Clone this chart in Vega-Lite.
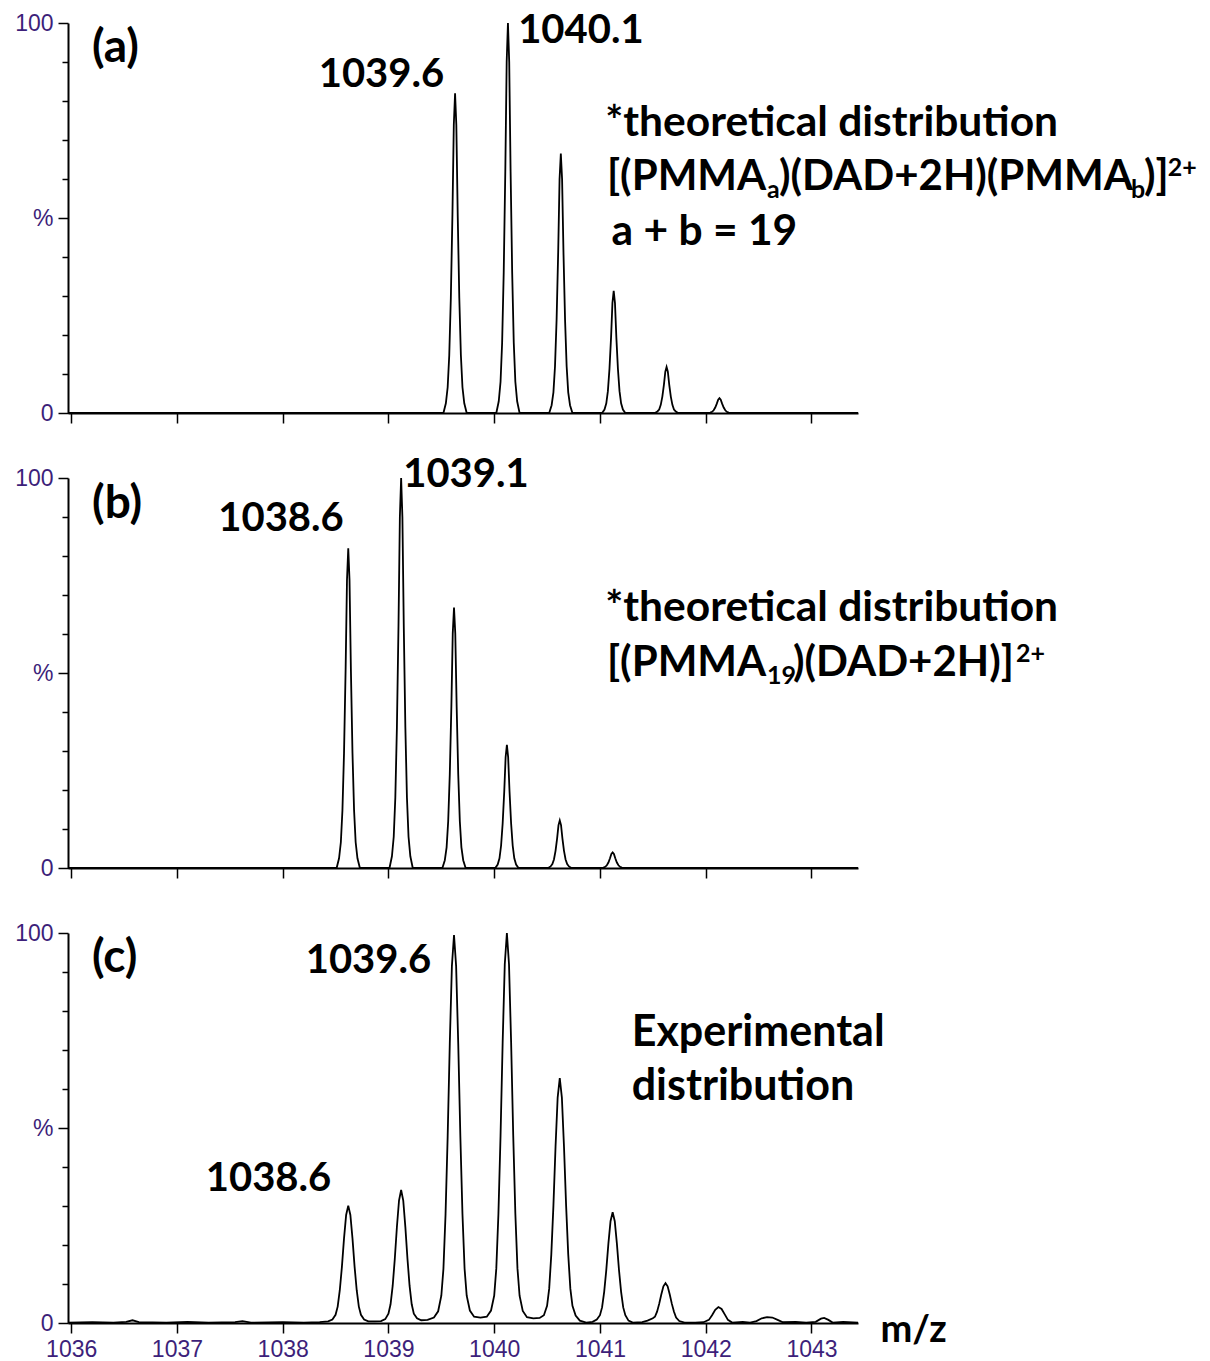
{
  "$schema": "https://vega.github.io/schema/vega-lite/v6.json",
  "background": "white",
  "padding": {"left": 14, "top": 10, "right": 0, "bottom": 0},
  "config": {
    "view": {"stroke": null},
    "axis": {"domainColor": "black", "domainWidth": 2, "tickColor": "black", "tickWidth": 1.5, "grid": false, "labelFont": "Liberation Sans", "labelFontSize": 23, "labelColor": "#3d1f7a"},
    "text": {"font": "Lato", "fontWeight": "bold", "fontSize": 43, "baseline": "alphabetic", "color": "black"}
  },
  "datasets": {
    "a": [
      {"mz": 1035.97, "pct": 0},
      {"mz": 1039.52, "pct": 0}, {"mz": 1039.543, "pct": 2.5}, {"mz": 1039.56, "pct": 6.6}, {"mz": 1039.575, "pct": 14.8}, {"mz": 1039.59, "pct": 29.5}, {"mz": 1039.605, "pct": 50.8}, {"mz": 1039.618, "pct": 73.8}, {"mz": 1039.63, "pct": 82}, {"mz": 1039.642, "pct": 73.8}, {"mz": 1039.655, "pct": 50.8}, {"mz": 1039.67, "pct": 29.5}, {"mz": 1039.685, "pct": 14.8}, {"mz": 1039.7, "pct": 6.6}, {"mz": 1039.717, "pct": 2.5}, {"mz": 1039.74, "pct": 0},
      {"mz": 1040.02, "pct": 0}, {"mz": 1040.043, "pct": 3}, {"mz": 1040.06, "pct": 8}, {"mz": 1040.075, "pct": 18}, {"mz": 1040.09, "pct": 36}, {"mz": 1040.105, "pct": 62}, {"mz": 1040.118, "pct": 90}, {"mz": 1040.13, "pct": 100}, {"mz": 1040.142, "pct": 90}, {"mz": 1040.155, "pct": 62}, {"mz": 1040.17, "pct": 36}, {"mz": 1040.185, "pct": 18}, {"mz": 1040.2, "pct": 8}, {"mz": 1040.217, "pct": 3}, {"mz": 1040.24, "pct": 0},
      {"mz": 1040.52, "pct": 0}, {"mz": 1040.543, "pct": 2}, {"mz": 1040.56, "pct": 5.3}, {"mz": 1040.575, "pct": 12}, {"mz": 1040.59, "pct": 23.9}, {"mz": 1040.605, "pct": 41.2}, {"mz": 1040.618, "pct": 59.9}, {"mz": 1040.63, "pct": 66.5}, {"mz": 1040.642, "pct": 59.9}, {"mz": 1040.655, "pct": 41.2}, {"mz": 1040.67, "pct": 23.9}, {"mz": 1040.685, "pct": 12}, {"mz": 1040.7, "pct": 5.3}, {"mz": 1040.717, "pct": 2}, {"mz": 1040.74, "pct": 0},
      {"mz": 1041.02, "pct": 0}, {"mz": 1041.043, "pct": 0.9}, {"mz": 1041.06, "pct": 2.5}, {"mz": 1041.075, "pct": 5.6}, {"mz": 1041.09, "pct": 11.3}, {"mz": 1041.105, "pct": 19.4}, {"mz": 1041.118, "pct": 28.2}, {"mz": 1041.13, "pct": 31.3}, {"mz": 1041.142, "pct": 28.2}, {"mz": 1041.155, "pct": 19.4}, {"mz": 1041.17, "pct": 11.3}, {"mz": 1041.185, "pct": 5.6}, {"mz": 1041.2, "pct": 2.5}, {"mz": 1041.217, "pct": 0.9}, {"mz": 1041.24, "pct": 0},
      {"mz": 1041.52, "pct": 0}, {"mz": 1041.543, "pct": 0.4}, {"mz": 1041.56, "pct": 0.9}, {"mz": 1041.575, "pct": 2.1}, {"mz": 1041.59, "pct": 4.2}, {"mz": 1041.605, "pct": 7.3}, {"mz": 1041.618, "pct": 10.6}, {"mz": 1041.63, "pct": 11.8}, {"mz": 1041.642, "pct": 10.6}, {"mz": 1041.655, "pct": 7.3}, {"mz": 1041.67, "pct": 4.2}, {"mz": 1041.685, "pct": 2.1}, {"mz": 1041.7, "pct": 0.9}, {"mz": 1041.717, "pct": 0.4}, {"mz": 1041.74, "pct": 0},
      {"mz": 1042.02, "pct": 0}, {"mz": 1042.043, "pct": 0.1}, {"mz": 1042.06, "pct": 0.3}, {"mz": 1042.075, "pct": 0.7}, {"mz": 1042.09, "pct": 1.4}, {"mz": 1042.105, "pct": 2.4}, {"mz": 1042.118, "pct": 3.4}, {"mz": 1042.13, "pct": 3.8}, {"mz": 1042.142, "pct": 3.4}, {"mz": 1042.155, "pct": 2.4}, {"mz": 1042.17, "pct": 1.4}, {"mz": 1042.185, "pct": 0.7}, {"mz": 1042.2, "pct": 0.3}, {"mz": 1042.217, "pct": 0.1}, {"mz": 1042.24, "pct": 0},
      {"mz": 1043.44, "pct": 0}
    ],
    "b": [
      {"mz": 1035.97, "pct": 0},
      {"mz": 1038.51, "pct": 0}, {"mz": 1038.533, "pct": 2.5}, {"mz": 1038.55, "pct": 6.6}, {"mz": 1038.565, "pct": 14.8}, {"mz": 1038.58, "pct": 29.5}, {"mz": 1038.595, "pct": 50.8}, {"mz": 1038.608, "pct": 73.8}, {"mz": 1038.62, "pct": 82}, {"mz": 1038.632, "pct": 73.8}, {"mz": 1038.645, "pct": 50.8}, {"mz": 1038.66, "pct": 29.5}, {"mz": 1038.675, "pct": 14.8}, {"mz": 1038.69, "pct": 6.6}, {"mz": 1038.707, "pct": 2.5}, {"mz": 1038.73, "pct": 0},
      {"mz": 1039.01, "pct": 0}, {"mz": 1039.033, "pct": 3}, {"mz": 1039.05, "pct": 8}, {"mz": 1039.065, "pct": 18}, {"mz": 1039.08, "pct": 36}, {"mz": 1039.095, "pct": 62}, {"mz": 1039.108, "pct": 90}, {"mz": 1039.12, "pct": 100}, {"mz": 1039.132, "pct": 90}, {"mz": 1039.145, "pct": 62}, {"mz": 1039.16, "pct": 36}, {"mz": 1039.175, "pct": 18}, {"mz": 1039.19, "pct": 8}, {"mz": 1039.207, "pct": 3}, {"mz": 1039.23, "pct": 0},
      {"mz": 1039.51, "pct": 0}, {"mz": 1039.533, "pct": 2}, {"mz": 1039.55, "pct": 5.3}, {"mz": 1039.565, "pct": 12}, {"mz": 1039.58, "pct": 24}, {"mz": 1039.595, "pct": 41.4}, {"mz": 1039.608, "pct": 60.1}, {"mz": 1039.62, "pct": 66.8}, {"mz": 1039.632, "pct": 60.1}, {"mz": 1039.645, "pct": 41.4}, {"mz": 1039.66, "pct": 24}, {"mz": 1039.675, "pct": 12}, {"mz": 1039.69, "pct": 5.3}, {"mz": 1039.707, "pct": 2}, {"mz": 1039.73, "pct": 0},
      {"mz": 1040.01, "pct": 0}, {"mz": 1040.033, "pct": 0.9}, {"mz": 1040.05, "pct": 2.5}, {"mz": 1040.065, "pct": 5.7}, {"mz": 1040.08, "pct": 11.4}, {"mz": 1040.095, "pct": 19.6}, {"mz": 1040.108, "pct": 28.4}, {"mz": 1040.12, "pct": 31.6}, {"mz": 1040.132, "pct": 28.4}, {"mz": 1040.145, "pct": 19.6}, {"mz": 1040.16, "pct": 11.4}, {"mz": 1040.175, "pct": 5.7}, {"mz": 1040.19, "pct": 2.5}, {"mz": 1040.207, "pct": 0.9}, {"mz": 1040.23, "pct": 0},
      {"mz": 1040.51, "pct": 0}, {"mz": 1040.533, "pct": 0.4}, {"mz": 1040.55, "pct": 1}, {"mz": 1040.565, "pct": 2.2}, {"mz": 1040.58, "pct": 4.4}, {"mz": 1040.595, "pct": 7.6}, {"mz": 1040.608, "pct": 11}, {"mz": 1040.62, "pct": 12.2}, {"mz": 1040.632, "pct": 11}, {"mz": 1040.645, "pct": 7.6}, {"mz": 1040.66, "pct": 4.4}, {"mz": 1040.675, "pct": 2.2}, {"mz": 1040.69, "pct": 1}, {"mz": 1040.707, "pct": 0.4}, {"mz": 1040.73, "pct": 0},
      {"mz": 1041.01, "pct": 0}, {"mz": 1041.033, "pct": 0.1}, {"mz": 1041.05, "pct": 0.3}, {"mz": 1041.065, "pct": 0.7}, {"mz": 1041.08, "pct": 1.4}, {"mz": 1041.095, "pct": 2.5}, {"mz": 1041.108, "pct": 3.6}, {"mz": 1041.12, "pct": 4}, {"mz": 1041.132, "pct": 3.6}, {"mz": 1041.145, "pct": 2.5}, {"mz": 1041.16, "pct": 1.4}, {"mz": 1041.175, "pct": 0.7}, {"mz": 1041.19, "pct": 0.3}, {"mz": 1041.207, "pct": 0.1}, {"mz": 1041.23, "pct": 0},
      {"mz": 1043.44, "pct": 0}
    ],
    "c": [
      {"mz": 1035.97, "pct": 0.1}, {"mz": 1036.2, "pct": 0.2}, {"mz": 1036.4, "pct": 0.1}, {"mz": 1036.52, "pct": 0.3}, {"mz": 1036.58, "pct": 0.7}, {"mz": 1036.64, "pct": 0.2}, {"mz": 1036.9, "pct": 0.1}, {"mz": 1037.1, "pct": 0.3}, {"mz": 1037.3, "pct": 0.1}, {"mz": 1037.55, "pct": 0.2}, {"mz": 1037.62, "pct": 0.5}, {"mz": 1037.7, "pct": 0.1}, {"mz": 1038.0, "pct": 0.2}, {"mz": 1038.2, "pct": 0.1}, {"mz": 1038.35, "pct": 0.2},
      {"mz": 1038.43, "pct": 0.4}, {"mz": 1038.47, "pct": 0.9}, {"mz": 1038.5, "pct": 2.1}, {"mz": 1038.52, "pct": 4.2}, {"mz": 1038.54, "pct": 8.4}, {"mz": 1038.56, "pct": 14.4}, {"mz": 1038.58, "pct": 21.7}, {"mz": 1038.6, "pct": 27.7}, {"mz": 1038.62, "pct": 30.1}, {"mz": 1038.64, "pct": 27.7}, {"mz": 1038.66, "pct": 21.7}, {"mz": 1038.68, "pct": 14.4}, {"mz": 1038.7, "pct": 8.4}, {"mz": 1038.72, "pct": 4.2}, {"mz": 1038.74, "pct": 2.1}, {"mz": 1038.77, "pct": 0.9}, {"mz": 1038.81, "pct": 0.4},
      {"mz": 1038.87, "pct": 0.4},
      {"mz": 1038.93, "pct": 0.5}, {"mz": 1038.97, "pct": 1.0}, {"mz": 1039.0, "pct": 2.4}, {"mz": 1039.02, "pct": 4.8}, {"mz": 1039.04, "pct": 9.5}, {"mz": 1039.06, "pct": 16.4}, {"mz": 1039.08, "pct": 24.6}, {"mz": 1039.1, "pct": 31.4}, {"mz": 1039.12, "pct": 34.1}, {"mz": 1039.14, "pct": 31.4}, {"mz": 1039.16, "pct": 24.6}, {"mz": 1039.18, "pct": 16.4}, {"mz": 1039.2, "pct": 9.5}, {"mz": 1039.22, "pct": 4.8}, {"mz": 1039.24, "pct": 2.4}, {"mz": 1039.27, "pct": 1.2}, {"mz": 1039.31, "pct": 0.7},
      {"mz": 1039.37, "pct": 0.8},
      {"mz": 1039.43, "pct": 1.4}, {"mz": 1039.47, "pct": 3.0}, {"mz": 1039.5, "pct": 7.0}, {"mz": 1039.52, "pct": 13.9}, {"mz": 1039.54, "pct": 27.9}, {"mz": 1039.56, "pct": 47.8}, {"mz": 1039.58, "pct": 71.6}, {"mz": 1039.6, "pct": 91.5}, {"mz": 1039.62, "pct": 99.5}, {"mz": 1039.64, "pct": 91.5}, {"mz": 1039.66, "pct": 71.6}, {"mz": 1039.68, "pct": 47.8}, {"mz": 1039.7, "pct": 27.9}, {"mz": 1039.72, "pct": 13.9}, {"mz": 1039.74, "pct": 7.0}, {"mz": 1039.77, "pct": 3.2}, {"mz": 1039.81, "pct": 1.6},
      {"mz": 1039.87, "pct": 1.4},
      {"mz": 1039.93, "pct": 1.6}, {"mz": 1039.97, "pct": 3.2}, {"mz": 1040.0, "pct": 7.0}, {"mz": 1040.02, "pct": 14}, {"mz": 1040.04, "pct": 28}, {"mz": 1040.06, "pct": 48}, {"mz": 1040.08, "pct": 72}, {"mz": 1040.1, "pct": 92}, {"mz": 1040.12, "pct": 100}, {"mz": 1040.14, "pct": 92}, {"mz": 1040.16, "pct": 72}, {"mz": 1040.18, "pct": 48}, {"mz": 1040.2, "pct": 28}, {"mz": 1040.22, "pct": 14}, {"mz": 1040.24, "pct": 7}, {"mz": 1040.27, "pct": 3.1}, {"mz": 1040.31, "pct": 1.5},
      {"mz": 1040.37, "pct": 1.2},
      {"mz": 1040.43, "pct": 1.3}, {"mz": 1040.47, "pct": 2.0}, {"mz": 1040.5, "pct": 4.4}, {"mz": 1040.52, "pct": 8.8}, {"mz": 1040.54, "pct": 17.6}, {"mz": 1040.56, "pct": 30.1}, {"mz": 1040.58, "pct": 45.2}, {"mz": 1040.6, "pct": 57.8}, {"mz": 1040.62, "pct": 62.8}, {"mz": 1040.64, "pct": 57.8}, {"mz": 1040.66, "pct": 45.2}, {"mz": 1040.68, "pct": 30.1}, {"mz": 1040.7, "pct": 17.6}, {"mz": 1040.72, "pct": 8.8}, {"mz": 1040.74, "pct": 4.4}, {"mz": 1040.77, "pct": 1.9}, {"mz": 1040.81, "pct": 0.6},
      {"mz": 1040.87, "pct": 0.1},
      {"mz": 1040.93, "pct": 0.3}, {"mz": 1040.97, "pct": 0.9}, {"mz": 1041.0, "pct": 2.0}, {"mz": 1041.02, "pct": 4.0}, {"mz": 1041.04, "pct": 8.0}, {"mz": 1041.06, "pct": 13.6}, {"mz": 1041.08, "pct": 20.4}, {"mz": 1041.1, "pct": 26.1}, {"mz": 1041.12, "pct": 28.4}, {"mz": 1041.14, "pct": 26.1}, {"mz": 1041.16, "pct": 20.4}, {"mz": 1041.18, "pct": 13.6}, {"mz": 1041.2, "pct": 8.0}, {"mz": 1041.22, "pct": 4.0}, {"mz": 1041.24, "pct": 2.0}, {"mz": 1041.27, "pct": 0.6}, {"mz": 1041.31, "pct": 0.1},
      {"mz": 1041.4, "pct": 0.2},
      {"mz": 1041.45, "pct": 0.6}, {"mz": 1041.5, "pct": 1.2}, {"mz": 1041.52, "pct": 1.6}, {"mz": 1041.54, "pct": 2.9}, {"mz": 1041.56, "pct": 4.9}, {"mz": 1041.58, "pct": 7.3}, {"mz": 1041.6, "pct": 9.4}, {"mz": 1041.62, "pct": 10.2}, {"mz": 1041.64, "pct": 9.4}, {"mz": 1041.66, "pct": 7.3}, {"mz": 1041.68, "pct": 4.9}, {"mz": 1041.7, "pct": 2.9}, {"mz": 1041.72, "pct": 1.4}, {"mz": 1041.75, "pct": 0.5}, {"mz": 1041.8, "pct": 0.1},
      {"mz": 1041.9, "pct": 0.1},
      {"mz": 1041.98, "pct": 0.2}, {"mz": 1042.03, "pct": 0.8}, {"mz": 1042.06, "pct": 2.0}, {"mz": 1042.09, "pct": 3.4}, {"mz": 1042.12, "pct": 4.1}, {"mz": 1042.15, "pct": 3.6}, {"mz": 1042.18, "pct": 2.2}, {"mz": 1042.21, "pct": 0.8}, {"mz": 1042.25, "pct": 0.1},
      {"mz": 1042.35, "pct": 0.3}, {"mz": 1042.42, "pct": 0.1},
      {"mz": 1042.48, "pct": 0.5}, {"mz": 1042.53, "pct": 1.2}, {"mz": 1042.58, "pct": 1.5}, {"mz": 1042.63, "pct": 1.4}, {"mz": 1042.68, "pct": 0.8}, {"mz": 1042.73, "pct": 0.2},
      {"mz": 1042.85, "pct": 0.3}, {"mz": 1042.95, "pct": 0.1},
      {"mz": 1043.04, "pct": 0.3}, {"mz": 1043.09, "pct": 1.1}, {"mz": 1043.12, "pct": 1.3}, {"mz": 1043.16, "pct": 0.8}, {"mz": 1043.2, "pct": 0.1},
      {"mz": 1043.3, "pct": 0.3}, {"mz": 1043.44, "pct": 0.1}
    ]
  },
  "vconcat": [
    {
      "width": 790, "height": 390,
      "resolve": {"axis": {"y": "independent"}},
      "layer": [
        {
          "data": {"name": "a"},
          "mark": {"type": "line", "color": "black", "strokeWidth": 1.8},
          "encoding": {
            "x": {"field": "mz", "type": "quantitative", "scale": {"domain": [1035.97, 1043.44], "nice": false, "zero": false},
                  "axis": {"values": [1036, 1037, 1038, 1039, 1040, 1041, 1042, 1043], "labels": false, "tickSize": 10, "title": null}},
            "y": {"field": "pct", "type": "quantitative", "scale": {"domain": [0, 100], "nice": false},
                  "axis": {"orient": "left", "values": [0, 50, 100], "labelExpr": "datum.value == 50 ? '%' : datum.label", "tickSize": 10, "labelPadding": 5, "title": null}},
            "order": {"field": "mz", "type": "quantitative"}
          }
        },
        {
          "data": {"values": [{"pct": 0}]},
          "mark": {"type": "point", "opacity": 0},
          "encoding": {"y": {"field": "pct", "type": "quantitative", "axis": {"orient": "left", "values": [10, 20, 30, 40, 60, 70, 80, 90], "tickSize": 6, "labels": false, "domain": false, "title": null}}}
        },
        {
          "data": {"values": [{"mz": 1038.934, "pct": 83.6, "label": "1039.6"}, {"mz": 1040.82, "pct": 94.9, "label": "1040.1"}]},
          "mark": {"type": "text", "align": "center", "fontSize": 40},
          "encoding": {"x": {"field": "mz", "type": "quantitative"}, "y": {"field": "pct", "type": "quantitative", "axis": null}, "text": {"field": "label"}}
        },
        {
          "data": {"values": [{"mz": 1041.05, "pct": 71.0, "label": "*theoretical distribution"}, {"mz": 1041.11, "pct": 43.1, "label": "a + b = 19"}]},
          "mark": {"type": "text", "align": "left", "fontSize": 42.5},
          "encoding": {"x": {"field": "mz", "type": "quantitative"}, "y": {"field": "pct", "type": "quantitative", "axis": null}, "text": {"field": "label"}}
        },
        {
          "data": {"values": [{"mz": 1041.066, "pct": 57.2, "label": "[(PMMA"}, {"mz": 1042.693, "pct": 57.2, "label": ")(DAD+2H)(PMMA"}, {"mz": 1046.144, "pct": 57.2, "label": ")]"}]},
          "mark": {"type": "text", "align": "left", "fontSize": 42},
          "encoding": {"x": {"field": "mz", "type": "quantitative"}, "y": {"field": "pct", "type": "quantitative", "axis": null}, "text": {"field": "label"}}
        },
        {
          "data": {"values": [{"mz": 1036.197, "pct": 90.0, "label": "(a)"}]},
          "mark": {"type": "text", "align": "left", "fontSize": 46},
          "encoding": {"x": {"field": "mz", "type": "quantitative"}, "y": {"field": "pct", "type": "quantitative", "axis": null}, "text": {"field": "label"}}
        },
        {
          "data": {"values": [{"mz": 1042.579, "pct": 57.2, "label": "a"}, {"mz": 1046.021, "pct": 57.2, "label": "b"}]},
          "mark": {"type": "text", "align": "left", "fontSize": 25, "dy": 8},
          "encoding": {"x": {"field": "mz", "type": "quantitative"}, "y": {"field": "pct", "type": "quantitative", "axis": null}, "text": {"field": "label"}}
        },
        {
          "data": {"values": [{"mz": 1046.37, "pct": 57.2, "label": "2+"}]},
          "mark": {"type": "text", "align": "left", "fontSize": 25, "dy": -14},
          "encoding": {"x": {"field": "mz", "type": "quantitative"}, "y": {"field": "pct", "type": "quantitative", "axis": null}, "text": {"field": "label"}}
        }
      ]
    },
    {
      "width": 790, "height": 390,
      "resolve": {"axis": {"y": "independent"}},
      "layer": [
        {
          "data": {"name": "b"},
          "mark": {"type": "line", "color": "black", "strokeWidth": 1.8},
          "encoding": {
            "x": {"field": "mz", "type": "quantitative", "scale": {"domain": [1035.97, 1043.44], "nice": false, "zero": false},
                  "axis": {"values": [1036, 1037, 1038, 1039, 1040, 1041, 1042, 1043], "labels": false, "tickSize": 10, "title": null}},
            "y": {"field": "pct", "type": "quantitative", "scale": {"domain": [0, 100], "nice": false},
                  "axis": {"orient": "left", "values": [0, 50, 100], "labelExpr": "datum.value == 50 ? '%' : datum.label", "tickSize": 10, "labelPadding": 5, "title": null}},
            "order": {"field": "mz", "type": "quantitative"}
          }
        },
        {
          "data": {"values": [{"pct": 0}]},
          "mark": {"type": "point", "opacity": 0},
          "encoding": {"y": {"field": "pct", "type": "quantitative", "axis": {"orient": "left", "values": [10, 20, 30, 40, 60, 70, 80, 90], "tickSize": 6, "labels": false, "domain": false, "title": null}}}
        },
        {
          "data": {"values": [{"mz": 1037.984, "pct": 86.4, "label": "1038.6"}, {"mz": 1039.733, "pct": 97.7, "label": "1039.1"}]},
          "mark": {"type": "text", "align": "center", "fontSize": 40},
          "encoding": {"x": {"field": "mz", "type": "quantitative"}, "y": {"field": "pct", "type": "quantitative", "axis": null}, "text": {"field": "label"}}
        },
        {
          "data": {"values": [{"mz": 1041.05, "pct": 63.3, "label": "*theoretical distribution"}]},
          "mark": {"type": "text", "align": "left", "fontSize": 42.5},
          "encoding": {"x": {"field": "mz", "type": "quantitative"}, "y": {"field": "pct", "type": "quantitative", "axis": null}, "text": {"field": "label"}}
        },
        {
          "data": {"values": [{"mz": 1041.066, "pct": 49.2, "label": "[(PMMA"}, {"mz": 1042.825, "pct": 49.2, "label": ")(DAD+2H)]"}]},
          "mark": {"type": "text", "align": "left", "fontSize": 42},
          "encoding": {"x": {"field": "mz", "type": "quantitative"}, "y": {"field": "pct", "type": "quantitative", "axis": null}, "text": {"field": "label"}}
        },
        {
          "data": {"values": [{"mz": 1036.197, "pct": 89.7, "label": "(b)"}]},
          "mark": {"type": "text", "align": "left", "fontSize": 46},
          "encoding": {"x": {"field": "mz", "type": "quantitative"}, "y": {"field": "pct", "type": "quantitative", "axis": null}, "text": {"field": "label"}}
        },
        {
          "data": {"values": [{"mz": 1042.579, "pct": 49.2, "label": "19"}]},
          "mark": {"type": "text", "align": "left", "fontSize": 25, "dy": 8},
          "encoding": {"x": {"field": "mz", "type": "quantitative"}, "y": {"field": "pct", "type": "quantitative", "axis": null}, "text": {"field": "label"}}
        },
        {
          "data": {"values": [{"mz": 1044.934, "pct": 49.2, "label": "2+"}]},
          "mark": {"type": "text", "align": "left", "fontSize": 25, "dy": -14},
          "encoding": {"x": {"field": "mz", "type": "quantitative"}, "y": {"field": "pct", "type": "quantitative", "axis": null}, "text": {"field": "label"}}
        }
      ]
    },
    {
      "width": 790, "height": 390,
      "resolve": {"axis": {"y": "independent"}},
      "layer": [
        {
          "data": {"name": "c"},
          "mark": {"type": "line", "color": "black", "strokeWidth": 1.8},
          "encoding": {
            "x": {"field": "mz", "type": "quantitative", "scale": {"domain": [1035.97, 1043.44], "nice": false, "zero": false},
                  "axis": {"values": [1036, 1037, 1038, 1039, 1040, 1041, 1042, 1043], "format": "d", "tickSize": 10, "labelPadding": 5,
                           "title": "m/z", "titleFont": "Lato", "titleFontWeight": "bold", "titleFontSize": 38, "titleColor": "black", "titleX": 812, "titleY": 18, "titleAlign": "left", "titleBaseline": "alphabetic", "titleAngle": 0}},
            "y": {"field": "pct", "type": "quantitative", "scale": {"domain": [0, 100], "nice": false},
                  "axis": {"orient": "left", "values": [0, 50, 100], "labelExpr": "datum.value == 50 ? '%' : datum.label", "tickSize": 10, "labelPadding": 5, "title": null}},
            "order": {"field": "mz", "type": "quantitative"}
          }
        },
        {
          "data": {"values": [{"pct": 0}]},
          "mark": {"type": "point", "opacity": 0},
          "encoding": {"y": {"field": "pct", "type": "quantitative", "axis": {"orient": "left", "values": [10, 20, 30, 40, 60, 70, 80, 90], "tickSize": 6, "labels": false, "domain": false, "title": null}}}
        },
        {
          "data": {"values": [{"mz": 1038.811, "pct": 89.7, "label": "1039.6"}, {"mz": 1037.866, "pct": 33.8, "label": "1038.6"}]},
          "mark": {"type": "text", "align": "center", "fontSize": 40},
          "encoding": {"x": {"field": "mz", "type": "quantitative"}, "y": {"field": "pct", "type": "quantitative", "axis": null}, "text": {"field": "label"}}
        },
        {
          "data": {"values": [{"mz": 1041.30, "pct": 71.0, "label": "Experimental"}, {"mz": 1041.30, "pct": 57.2, "label": "distribution"}]},
          "mark": {"type": "text", "align": "left"},
          "encoding": {"x": {"field": "mz", "type": "quantitative"}, "y": {"field": "pct", "type": "quantitative", "axis": null}, "text": {"field": "label"}}
        },
        {
          "data": {"values": [{"mz": 1036.197, "pct": 90.0, "label": "(c)"}]},
          "mark": {"type": "text", "align": "left", "fontSize": 46},
          "encoding": {"x": {"field": "mz", "type": "quantitative"}, "y": {"field": "pct", "type": "quantitative", "axis": null}, "text": {"field": "label"}}
        }
      ]
    }
  ],
  "spacing": 65,
  "bounds": "flush"
}
